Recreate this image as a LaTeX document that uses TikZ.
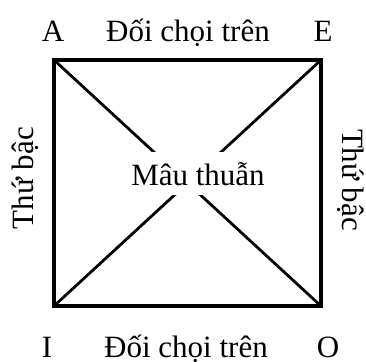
\documentclass[tikz,border=0pt]{standalone}
\usepackage{fontspec}
\setmainfont{Liberation Serif}
\usepackage{tikz}

\begin{document}
\begin{tikzpicture}[x=0.5pt,y=-0.5pt,every node/.style={font=\fontsize{15.5}{18}\selectfont,anchor=base}]
  \useasboundingbox (0,0) rectangle (366,361);
  \coordinate (cA) at (54,60);
  \coordinate (cE) at (321,60);
  \coordinate (cO) at (321,306);
  \coordinate (cI) at (54,306);
  \draw[line width=1.6pt] (cA)--(cE)--(cO)--(cI)--cycle;
  \draw[line width=1.4pt] (cA)--(cO);
  \draw[line width=1.4pt] (cE)--(cI);
  \node (mau) [fill=white,inner sep=5pt] at (198,185) {Mâu thuẫn};
  \node (lA) at (53,41) {A};
  \node (lE) at (323,41) {E};
  \node (lI) at (47,357) {I};
  \node (lO) at (328,357) {O};
  \node (top) at (188,41) {Đối chọi trên};
  \node (bot) at (186,357) {Đối chọi trên};
  \node (left) [rotate=90] at (33,178) {Thứ bậc};
  \node (right) [rotate=-90] at (343,180) {Thứ bậc};
\end{tikzpicture}
\end{document}
